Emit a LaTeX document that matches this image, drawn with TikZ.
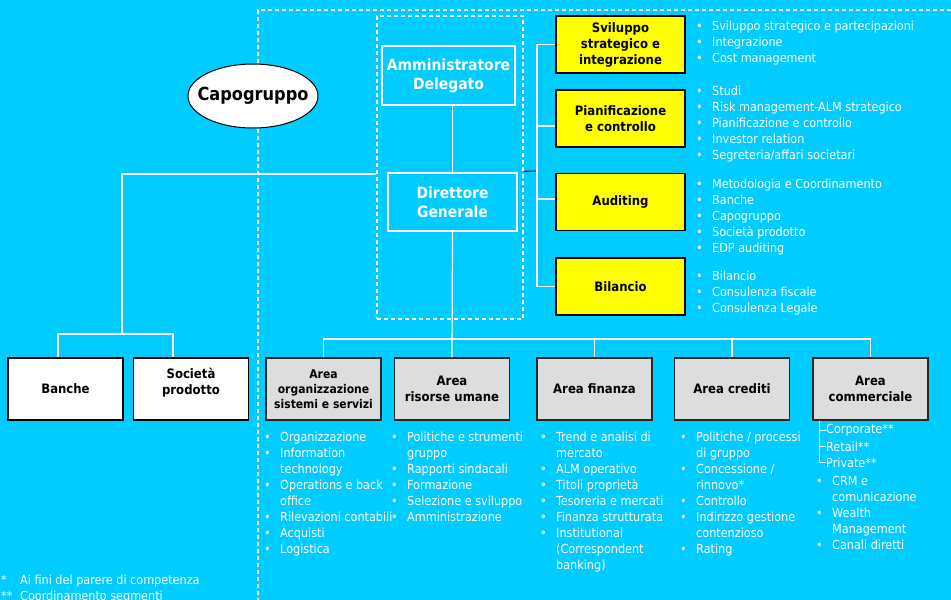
\documentclass[tikz,border=0pt]{standalone}
\usepackage{fontspec}
\setmainfont{DejaVu Sans Condensed}
\usepackage{xcolor}
\usetikzlibrary{shapes.geometric}
\definecolor{sfondo}{RGB}{0,204,255}
\definecolor{giallo}{RGB}{255,255,0}
\definecolor{grigio}{RGB}{221,221,221}
\newcommand{\voce}[1]{\makebox[16pt][l]{\textbullet}#1}
\newcommand{\segue}[1]{\hspace*{16pt}#1}
\tikzset{
  link/.style={draw=white,line width=1.2pt},
  vertice/.style={draw=white,line width=1.2pt,dash pattern=on 4pt off 3pt,inner sep=0,minimum width=146pt,minimum height=303pt},
  vertbox/.style={draw=white,line width=1.2pt,text=white,align=center,font=\bfseries\fontsize{15.5}{19}\selectfont},
  capo/.style={ellipse,draw=black,fill=white,line width=1pt,inner sep=0,minimum width=130pt,minimum height=64pt,font=\bfseries\fontsize{18}{20}\selectfont},
  staffbox/.style={draw=black,fill=giallo,line width=1.2pt,minimum width=129pt,minimum height=57pt,align=center,font=\bfseries\fontsize{13}{16}\selectfont},
  gruppobox/.style={draw=black,fill=white,line width=1.2pt,minimum width=115pt,minimum height=62pt,align=center,font=\bfseries\fontsize{13}{16}\selectfont},
  areabox/.style={draw=black!85,fill=grigio,line width=1.2pt,minimum width=115pt,minimum height=62pt,align=center,font=\bfseries\fontsize{13}{16}\selectfont},
  elenco/.style={anchor=north west,inner sep=0,text=white,align=left,font=\fontsize{12.5}{16}\selectfont},
  segmento/.style={anchor=west,inner sep=0,text=white,font=\fontsize{12.5}{16}\selectfont}
}
\begin{document}
\begin{tikzpicture}[x=1pt,y=-1pt]
\fill[sfondo] (0,0) rectangle (951,600);
\useasboundingbox (0,0) rectangle (951,600);
\draw[white,line width=1.2pt,dash pattern=on 4pt off 3pt] (951,10) -- (258,10) -- (258,600);

\node[vertice] (vertice) at (450,167.5) {};
\node[vertbox,minimum width=133pt,minimum height=59pt] (ad) at (448.5,75.5) {Amministratore\\Delegato};
\node[vertbox,minimum width=129pt,minimum height=58pt] (dg) at (452.5,202) {Direttore\\Generale};
\node[capo] (capo) at (253,96) {\makebox[0pt]{Capogruppo}};

\node[staffbox] (svil) at (620.5,44.5) {Sviluppo\\strategico e\\integrazione};
\node[staffbox] (pian) at (620.5,118.5) {Pianificazione\\e controllo};
\node[staffbox] (aud) at (620.5,202) {Auditing};
\node[staffbox] (bil) at (620.5,286.5) {Bilancio};

\node[gruppobox] (banche) at (65.5,389) {Banche};
\node[gruppobox] (societa) at (191,389) {Società\\prodotto\\\mbox{}};

\node[areabox,font=\bfseries\fontsize{12}{15}\selectfont] (org) at (323.5,389) {Area\\organizzazione\\sistemi e servizi};
\node[areabox] (ru) at (452,389) {Area\\risorse umane};
\node[areabox] (fin) at (594.5,389) {Area finanza};
\node[areabox] (cred) at (732,389) {Area crediti};
\node[areabox] (comm) at (870.5,389) {Area\\commerciale};

\node[elenco] (lsvil) at (696,21) {\voce{Sviluppo strategico e partecipazioni}\\\voce{Integrazione}\\\voce{Cost management}};
\node[elenco] (lpian) at (696,86) {\voce{Studi}\\\voce{Risk management-ALM strategico}\\\voce{Pianificazione e controllo}\\\voce{Investor relation}\\\voce{Segreteria/affari societari}};
\node[elenco] (laud) at (696,179) {\voce{Metodologia e Coordinamento}\\\voce{Banche}\\\voce{Capogruppo}\\\voce{Società prodotto}\\\voce{EDP auditing}};
\node[elenco] (lbil) at (696,271) {\voce{Bilancio}\\\voce{Consulenza fiscale}\\\voce{Consulenza Legale}};

\node[elenco] (lorg) at (264,432) {\voce{Organizzazione}\\\voce{Information}\\\segue{technology}\\\voce{Operations e back}\\\segue{office}\\\voce{Rilevazioni contabili}\\\voce{Acquisti}\\\voce{Logistica}};
\node[elenco] (lru) at (391,432) {\voce{Politiche e strumenti}\\\segue{gruppo}\\\voce{Rapporti sindacali}\\\voce{Formazione}\\\voce{Selezione e sviluppo}\\\voce{Amministrazione}};
\node[elenco] (lfin) at (540,432) {\voce{Trend e analisi di}\\\segue{mercato}\\\voce{ALM operativo}\\\voce{Titoli proprietà}\\\voce{Tesoreria e mercati}\\\voce{Finanza strutturata}\\\voce{Institutional}\\\segue{(Correspondent}\\\segue{banking)}};
\node[elenco] (lcred) at (680,432) {\voce{Politiche / processi}\\\segue{di gruppo}\\\voce{Concessione /}\\\segue{rinnovo*}\\\voce{Controllo}\\\voce{Indirizzo gestione}\\\segue{contenzioso}\\\voce{Rating}};
\node[segmento] (corp) at (826,430) {Corporate**};
\node[segmento] (ret) at (826,446.5) {Retail**};
\node[segmento] (priv) at (826,462.5) {Private**};
\node[elenco] (lcomm) at (816,476) {\voce{CRM e}\\\segue{comunicazione}\\\voce{Wealth}\\\segue{Management}\\\voce{Canali diretti}};

\node[elenco] (nota) at (1,575) {\makebox[19pt][l]{*}Ai fini del parere di competenza\\\makebox[19pt][l]{**}Coordinamento segmenti};

\draw[link] (dg.north |- ad.south) -- (dg.north);
\draw[link] (dg.south) -- (ru.north);
\coordinate (bus) at (452,339);
\foreach \a in {org,fin,cred,comm}
  \draw[link] (\a.north) |- (bus);
\coordinate (gruppi) at (122,334);
\draw[link] (vertice.185) -| (gruppi);
\draw[link] ([xshift=-7.5pt]banche.north) |- (gruppi) -| ([xshift=-18pt]societa.north);
\coordinate (staff) at (537,171);
\draw[draw=black!80,line width=1.2pt] (vertice.357) -- (staff);
\foreach \s in {svil,bil}
  \draw[link] (\s.west) -| (staff);
\draw[link] ([yshift=-7.5pt]pian.west) -| (staff);
\draw[link] ([yshift=3pt]aud.west) -| (staff);
\foreach \c in {corp,ret,priv}
  \draw[white,line width=0.8pt] ([xshift=-51.5pt]comm.south) |- (\c.west);
\end{tikzpicture}
\end{document}
